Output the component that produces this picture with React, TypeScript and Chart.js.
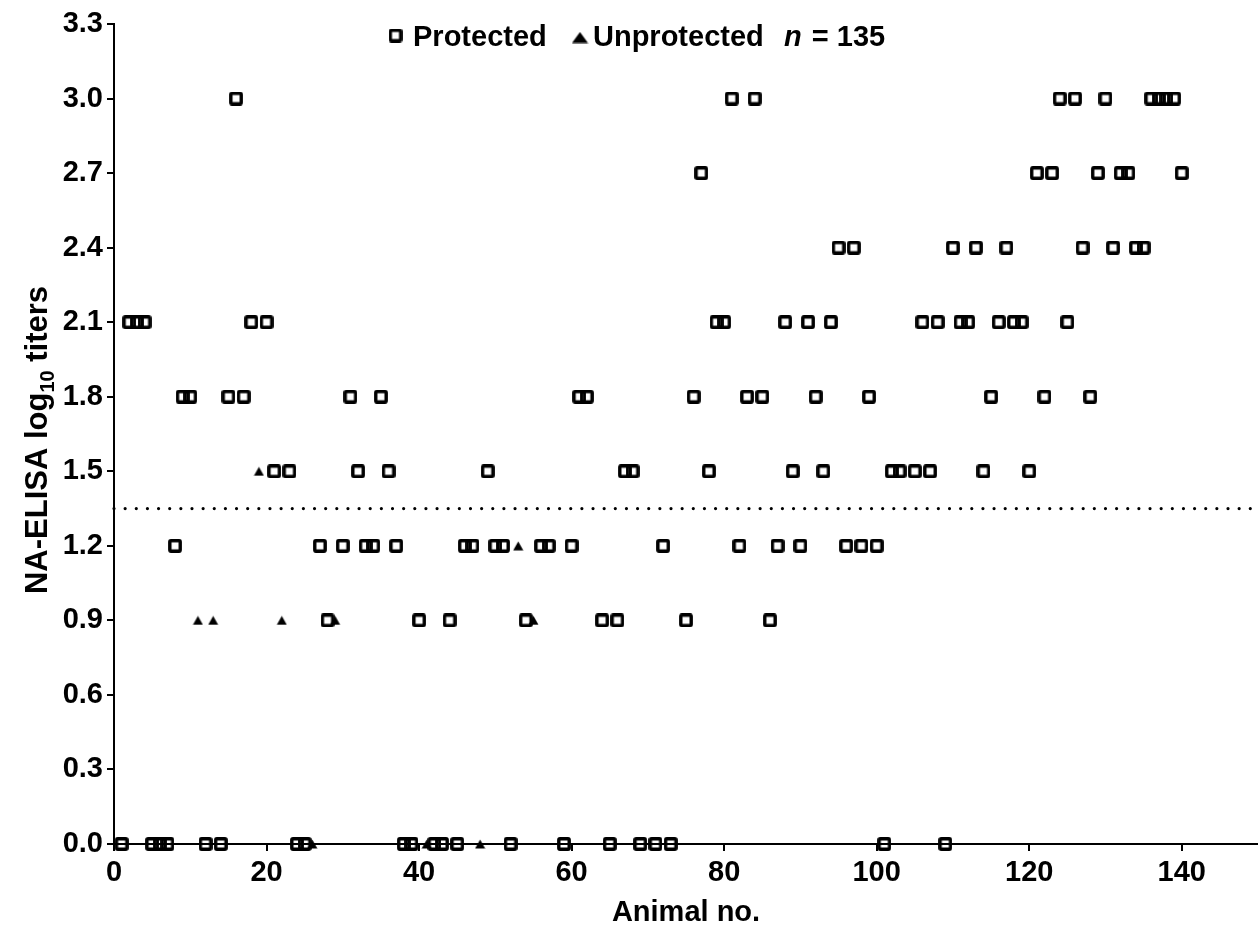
import React, { useEffect, useRef } from 'react';
import { Chart, registerables } from 'chart.js';

Chart.register(...registerables);

// ---------- axis settings ----------
const xTicks = [0, 20, 40, 60, 80, 100, 120, 140];
const yTicks = [0, 0.3, 0.6, 0.9, 1.2, 1.5, 1.8, 2.1, 2.4, 2.7, 3.0, 3.3];
const X_MIN = 0;
const X_MAX = 150;
const Y_MIN = 0;
const Y_MAX = 3.3;
const protectionThreshold = 1.35;

const xTitle = 'Animal no.';
const legendProtected = 'Protected';
const legendUnprotected = 'Unprotected';
const sampleSize = 135;

// ---------- data: animal numbers at each NA-ELISA log10 titer ----------
const protected30 = [16, 81, 84, 124, 126, 130, 136, 137, 138, 139];
const protected27 = [77, 121, 123, 129, 132, 133, 140];
const protected24 = [95, 97, 110, 113, 117, 127, 131, 134, 135];
const protected21 = [2, 3, 4, 18, 20, 79, 80, 88, 91, 94, 106, 108, 111, 112, 116, 118, 119, 125];
const protected18 = [9, 10, 15, 17, 31, 35, 61, 62, 76, 83, 85, 92, 99, 115, 122, 128];
const protected15 = [21, 23, 32, 36, 49, 67, 68, 78, 89, 93, 102, 103, 105, 107, 114, 120];
const protected12 = [8, 27, 30, 33, 34, 37, 46, 47, 50, 51, 56, 57, 60, 72, 82, 87, 90, 96, 98, 100];
const protected09 = [28, 40, 44, 54, 64, 66, 75, 86];
const protected00 = [1, 5, 6, 7, 12, 14, 24, 25, 38, 39, 42, 43, 45, 52, 59, 65, 69, 71, 73, 101, 109];

const unprotected15 = [19];
const unprotected12 = [53];
const unprotected09 = [11, 13, 22, 29, 55];
const unprotected00 = [26, 41, 48];

const FONT = "'Liberation Sans', Arial, Helvetica, sans-serif";

const toPoints = (xs: number[], y: number) => xs.map((x) => ({ x, y }));

function makeSquare(): HTMLCanvasElement {
  const c = document.createElement('canvas');
  c.width = 14;
  c.height = 14;
  const g = c.getContext('2d')!;
  g.strokeStyle = '#000';
  g.lineWidth = 3.4;
  g.lineJoin = 'round';
  g.beginPath();
  if ((g as any).roundRect) (g as any).roundRect(1.8, 1.8, 10.4, 10.4, 1.2);
  else g.rect(1.8, 1.8, 10.4, 10.4);
  g.stroke();
  return c;
}

function makeTriangle(w: number, h: number): HTMLCanvasElement {
  const c = document.createElement('canvas');
  c.width = w + 1;
  c.height = h + 1;
  const g = c.getContext('2d')!;
  g.fillStyle = '#000';
  g.beginPath();
  g.moveTo((w + 1) / 2, 0.5);
  g.lineTo(w + 0.5, h + 0.5);
  g.lineTo(0.5, h + 0.5);
  g.closePath();
  g.fill();
  return c;
}

export default function App() {
  const canvasRef = useRef<HTMLCanvasElement | null>(null);

  useEffect(() => {
    if (!canvasRef.current) return;
    const square = makeSquare();
    const tri = makeTriangle(10, 9);
    const legendTri = makeTriangle(16, 11);

    const protectedPoints = [
      ...toPoints(protected30, 3.0),
      ...toPoints(protected27, 2.7),
      ...toPoints(protected24, 2.4),
      ...toPoints(protected21, 2.1),
      ...toPoints(protected18, 1.8),
      ...toPoints(protected15, 1.5),
      ...toPoints(protected12, 1.2),
      ...toPoints(protected09, 0.9),
      ...toPoints(protected00, 0.0),
    ];
    const unprotectedPoints = [
      ...toPoints(unprotected15, 1.5),
      ...toPoints(unprotected12, 1.2),
      ...toPoints(unprotected09, 0.9),
      ...toPoints(unprotected00, 0.0),
    ];

    const textPlugin = {
      id: 'customTexts',
      afterDraw(chart: any) {
        const { ctx, chartArea } = chart;
        ctx.save();
        ctx.fillStyle = '#000';
        ctx.textBaseline = 'alphabetic';

        // x-axis title
        ctx.font = `bold 29px ${FONT}`;
        ctx.textAlign = 'center';
        ctx.fillText(xTitle, (chartArea.left + chartArea.right) / 2, chartArea.bottom + 77);

        // y-axis title with subscript
        ctx.save();
        ctx.translate(chartArea.left - 67, (chartArea.top + chartArea.bottom) / 2 + 6);
        ctx.rotate(-Math.PI / 2);
        ctx.textAlign = 'left';
        const big = `bold 31px ${FONT}`;
        const small = `bold 20px ${FONT}`;
        const p1 = 'NA-ELISA log';
        const p2 = '10';
        const p3 = ' titers';
        ctx.font = big;
        const w1 = ctx.measureText(p1).width;
        const w3 = ctx.measureText(p3).width;
        ctx.font = small;
        const w2 = ctx.measureText(p2).width;
        let x0 = -(w1 + w2 + w3) / 2;
        ctx.font = big;
        ctx.fillText(p1, x0, 0);
        x0 += w1;
        ctx.font = small;
        ctx.fillText(p2, x0, 7);
        x0 += w2;
        ctx.font = big;
        ctx.fillText(p3, x0, 0);
        ctx.restore();

        // legend
        const ly = chartArea.top + 22;
        ctx.drawImage(square, chartArea.left + 281.5 - 7, chartArea.top + 11.5 - 7);
        ctx.font = `bold 29px ${FONT}`;
        ctx.textAlign = 'left';
        ctx.fillText(legendProtected, chartArea.left + 299, ly);
        ctx.drawImage(legendTri, chartArea.left + 466 - 8.5, chartArea.top + 13.5 - 6);
        ctx.fillText(legendUnprotected, chartArea.left + 479, ly);
        ctx.font = `italic bold 29px ${FONT}`;
        const nx = chartArea.left + 670;
        ctx.fillText('n', nx, ly);
        const wn = ctx.measureText('n ').width;
        ctx.font = `bold 29px ${FONT}`;
        ctx.fillText(`= ${sampleSize}`, nx + wn + 2, ly);
        ctx.restore();
      },
    };

    const tickFont = { family: FONT, size: 29, weight: 'bold' as const };

    const chart = new Chart(canvasRef.current, {
      type: 'scatter',
      data: {
        datasets: [
          {
            label: legendProtected,
            data: protectedPoints,
            pointStyle: square as any,
            pointRadius: 7,
            pointHoverRadius: 7,
            borderColor: '#000',
            backgroundColor: 'rgba(0,0,0,0)',
            clip: false as any,
          },
          {
            label: legendUnprotected,
            data: unprotectedPoints,
            pointStyle: tri as any,
            pointRadius: 6,
            pointHoverRadius: 6,
            borderColor: '#000',
            backgroundColor: '#000',
            clip: false as any,
          },
          {
            label: 'threshold',
            data: [
              { x: X_MIN, y: protectionThreshold },
              { x: X_MAX, y: protectionThreshold },
            ],
            showLine: true,
            pointRadius: 0,
            borderColor: '#000',
            borderWidth: 3.2,
            borderDash: [0.01, 11.13],
            borderCapStyle: 'round',
            clip: false as any,
          } as any,
        ],
      },
      options: {
        responsive: false,
        maintainAspectRatio: false,
        animation: false,
        events: [],
        layout: { autoPadding: false, padding: { top: 24, right: 0, bottom: 0, left: 0 } },
        plugins: {
          legend: { display: false },
          tooltip: { enabled: false },
          title: { display: false },
        },
        scales: {
          x: {
            type: 'linear',
            min: X_MIN,
            max: X_MAX,
            afterBuildTicks: (s: any) => {
              s.ticks = xTicks.map((v) => ({ value: v }));
            },
            afterFit: (s: any) => {
              s.height = 83;
            },
            border: { display: true, color: '#000', width: 2 },
            grid: { drawOnChartArea: false, color: '#000', lineWidth: 2, tickLength: 7 },
            ticks: {
              color: '#000',
              font: tickFont,
              padding: 5,
              maxRotation: 0,
              autoSkip: false,
              callback: (v: any) => String(v),
            },
          },
          y: {
            type: 'linear',
            min: Y_MIN,
            max: Y_MAX,
            afterBuildTicks: (s: any) => {
              s.ticks = yTicks.map((v) => ({ value: v }));
            },
            afterFit: (s: any) => {
              s.width = 114;
            },
            border: { display: true, color: '#000', width: 2 },
            grid: { drawOnChartArea: false, color: '#000', lineWidth: 2, tickLength: 7 },
            ticks: {
              color: '#000',
              font: tickFont,
              padding: 4,
              autoSkip: false,
              callback: (v: any) => Number(v).toFixed(1),
            },
          },
        },
      },
      plugins: [textPlugin],
    });

    return () => {
      chart.destroy();
    };
  }, []);

  return (
    <div style={{ position: 'absolute', left: 0, top: 0, width: 1258, height: 927, background: '#fff' }}>
      <canvas ref={canvasRef} width={1258} height={927} style={{ display: 'block' }} />
    </div>
  );
}
